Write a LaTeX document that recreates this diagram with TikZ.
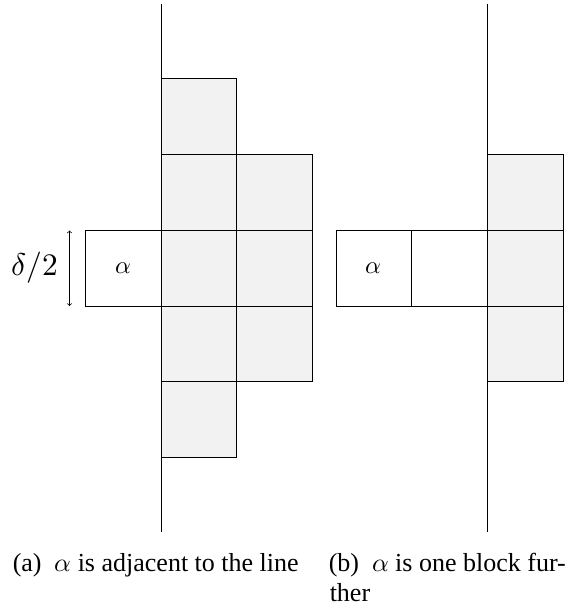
\documentclass[tikz,border=0pt]{standalone}
\usepackage{fontspec}
\setmainfont{Liberation Serif}
\usepackage{unicode-math}
\setmathfont{Latin Modern Math}
\begin{document}
\begin{tikzpicture}[x=0.75pt,y=-0.75pt,
  cell/.style={draw=black,line width=0.6pt,minimum size=56.85pt,inner sep=0pt,fill=gray!10,font=\fontsize{18.5}{22}\selectfont},
  wcell/.style={cell,fill=white},
  axis/.style={line width=0.7pt},
  captext/.style={anchor=base west,inner sep=0pt,font=\fontsize{19.5}{22}\selectfont}]
\useasboundingbox (0,0) rectangle (573,611);
% left figure
\coordinate (lt) at (161,3.5);
\coordinate (lb) at (161,532);
\node[cell] (a11) at (198.8,116.3) {};
\node[cell] (a21) at (198.8,192.1) {};
\node[cell] (a31) at (198.8,268) {};
\node[cell] (a41) at (198.8,343.8) {};
\node[cell] (a51) at (198.8,419.6) {};
\node[cell] (a22) at (274.6,192.1) {};
\node[cell] (a32) at (274.6,268) {};
\node[cell] (a42) at (274.6,343.8) {};
\node[wcell] (alphaA) at (123,268) {$\alpha$};
\draw[axis] (lt) -- (lb);
\coordinate (dt) at (69.5,230.5);
\coordinate (db) at (69.5,306);
\draw[<->,>={to[scale=1.4]},line width=0.5pt] (dt) -- (db);
\node[anchor=east,inner sep=0pt,font=\fontsize{23.5}{26}\selectfont] (delta) at (58.5,268) {$\delta/2$};
% right figure
\coordinate (rt) at (487.5,3.5);
\coordinate (rb) at (487.5,532);
\node[cell] (b21) at (525.4,192.1) {};
\node[cell] (b31) at (525.4,268) {};
\node[cell] (b41) at (525.4,343.8) {};
\node[wcell] (gap) at (449.6,268) {};
\node[wcell] (alphaB) at (373.8,268) {$\alpha$};
\draw[axis] (rt) -- (rb);
% captions
\node[captext] (capa) at (12.5,571) {(a)\ \ $\alpha$ is adjacent to the line};
\node[captext] (capb) at (328.5,571) {(b)\ \ $\alpha$ is one block fur-};
\node[captext] (capc) at (329.5,601.5) {ther};
\end{tikzpicture}
\end{document}
